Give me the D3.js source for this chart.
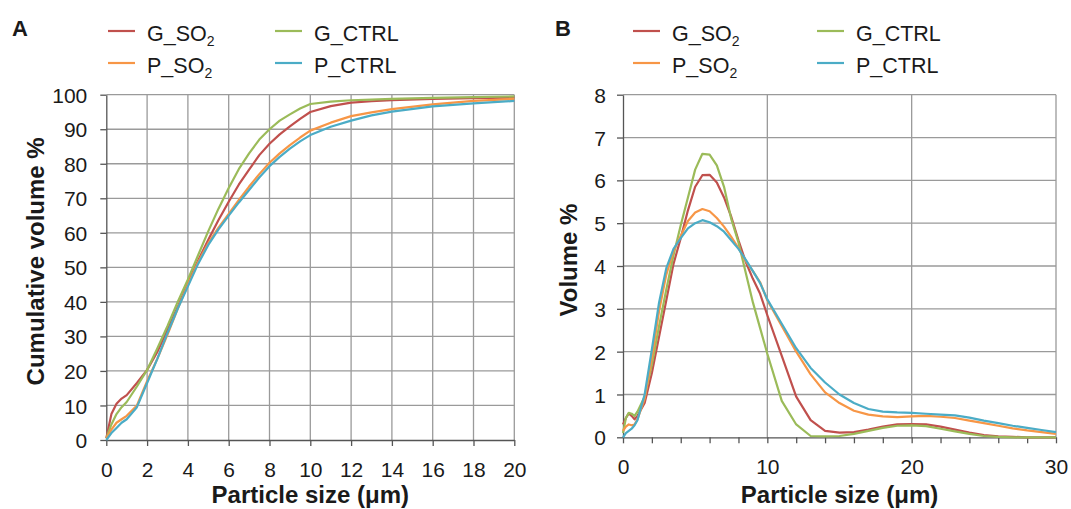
<!DOCTYPE html>
<html>
<head>
<meta charset="utf-8">
<script src="https://cdn.jsdelivr.net/npm/d3@7"></script>
<style>
  body { margin: 0; background: #fff; }
  svg text { font-family: "Liberation Sans", Arial, sans-serif; fill: #1a1a1a; }
</style>
</head>
<body>
<svg id="chart" width="1071" height="509"></svg>
<script>
// ---- panel A: cumulative volume %
const sizesA = [0, 0.25, 0.5, 0.75, 1, 1.5, 2, 2.5, 3, 3.5, 4, 4.5, 5, 5.5, 6, 6.5, 7, 7.5, 8, 8.5, 9, 9.5, 10, 11, 12, 13, 14, 16, 18, 20];
const gSO2A  = [0.5, 7.5, 10.5, 12, 13, 16.5, 20.3, 25.5, 32, 38.5, 45.5, 52, 58, 63.7, 69, 74, 78.3, 82.5, 85.8, 88.5, 90.8, 93, 95, 96.7, 97.7, 98.1, 98.4, 98.8, 99.0, 99.2];
const gCtrlA = [0.5, 4.5, 7.5, 9.5, 11, 15.5, 20.3, 26.5, 33, 40, 46.5, 53.5, 60.5, 67, 73, 78.5, 83, 87, 90, 92.5, 94.3, 96, 97.3, 98.0, 98.4, 98.6, 98.8, 99.1, 99.3, 99.5];
const pSO2A  = [0.5, 3, 5, 6, 7, 10, 17, 23.5, 30.5, 38, 45, 51.5, 57, 61.5, 65.5, 69.5, 73.4, 77, 80.3, 83, 85.4, 87.6, 89.6, 91.9, 93.8, 94.9, 95.8, 97.2, 98.2, 98.8];
const pCtrlA = [0, 2, 3.5, 5, 6, 9.5, 16.5, 23.5, 31, 38, 44.5, 51, 56.5, 61, 65, 68.8, 72.4, 76, 79.3, 82, 84.4, 86.5, 88.3, 90.7, 92.5, 94, 95.1, 96.6, 97.5, 98.2];

// ---- panel B: volume %
const sizesB = [0, 0.2, 0.4, 0.6, 0.8, 1, 1.5, 2, 2.5, 3, 3.5, 4, 4.5, 5, 5.5, 6, 6.5, 7, 7.5, 8, 8.5, 9, 9.5, 10, 11, 12, 13, 14, 15, 16, 17, 18, 19, 20, 21, 22, 23, 24, 25, 26, 27, 28, 29, 30];
const gSO2B  = [0.3, 0.45, 0.56, 0.5, 0.42, 0.5, 0.8, 1.5, 2.35, 3.2, 4.05, 4.65, 5.3, 5.85, 6.12, 6.13, 5.95, 5.6, 5.15, 4.6, 4.1, 3.7, 3.35, 2.85, 1.9, 0.95, 0.4, 0.15, 0.11, 0.12, 0.18, 0.25, 0.3, 0.31, 0.3, 0.25, 0.18, 0.11, 0.05, 0.02, 0.01, 0, 0, 0];
const gCtrlB = [0.1, 0.45, 0.57, 0.55, 0.5, 0.6, 0.95, 1.7, 2.6, 3.45, 4.25, 4.95, 5.6, 6.25, 6.62, 6.6, 6.35, 5.85, 5.1, 4.55, 3.85, 3.15, 2.55, 1.95, 0.85, 0.3, 0.03, 0.02, 0.03, 0.08, 0.15, 0.22, 0.27, 0.28, 0.26, 0.2, 0.14, 0.08, 0.03, 0.01, 0, 0, 0, 0];
const pSO2B  = [0.15, 0.25, 0.3, 0.28, 0.3, 0.42, 0.9, 1.85, 2.95, 3.8, 4.35, 4.7, 5.05, 5.25, 5.33, 5.28, 5.12, 4.92, 4.68, 4.42, 4.12, 3.88, 3.62, 3.2, 2.6, 2.0, 1.47, 1.05, 0.8, 0.62, 0.53, 0.49, 0.47, 0.49, 0.5, 0.48, 0.45, 0.39, 0.33, 0.27, 0.21, 0.16, 0.12, 0.08];
const pCtrlB = [0.0, 0.1, 0.15, 0.2, 0.28, 0.4, 1.0, 2.05, 3.15, 3.95, 4.4, 4.65, 4.88, 5.0, 5.07, 5.02, 4.93, 4.8, 4.6, 4.4, 4.15, 3.88, 3.6, 3.22, 2.65, 2.08, 1.62, 1.28, 1.0, 0.8, 0.66, 0.6, 0.58, 0.57, 0.55, 0.53, 0.51, 0.46, 0.39, 0.33, 0.27, 0.22, 0.17, 0.12];

const ticksA_x = d3.range(0, 21, 2);
const ticksA_y = d3.range(0, 101, 10);
const ticksB_x = d3.range(0, 31, 2);
const gridB_x = [10, 20, 30];
const ticksB_y = d3.range(0, 9, 1);

// legend order (row by row) and colors
const legendItems = [
  { key: "gSO2",  base: "G_SO", sub: "2" },
  { key: "gCtrl", base: "G_CTRL", sub: "" },
  { key: "pSO2",  base: "P_SO", sub: "2" },
  { key: "pCtrl", base: "P_CTRL", sub: "" }
];
const colors = { gSO2: "#c0504d", gCtrl: "#9bbb59", pSO2: "#f79646", pCtrl: "#4bacc6" };

const svg = d3.select("#chart");

function drawPanel(p) {
  const x = d3.scaleLinear().domain(p.xDomain).range([p.left, p.right]);
  const y = d3.scaleLinear().domain(p.yDomain).range([p.bottom, p.top]);
  const g = svg.append("g");

  // gridlines
  g.selectAll("line.vgrid").data(p.xGrid).join("line")
    .attr("class", "vgrid")
    .attr("x1", d => x(d)).attr("x2", d => x(d))
    .attr("y1", p.top).attr("y2", p.bottom)
    .attr("stroke", "#9a9a9a").attr("stroke-width", 1.3);
  g.selectAll("line.hgrid").data(p.yTicks.filter(d => d > p.yDomain[0])).join("line")
    .attr("class", "hgrid")
    .attr("x1", p.left).attr("x2", p.right)
    .attr("y1", d => y(d)).attr("y2", d => y(d))
    .attr("stroke", "#9a9a9a").attr("stroke-width", 1.3);

  // axes
  const xAxis = g.append("g")
    .attr("transform", `translate(0,${p.bottom})`)
    .call(d3.axisBottom(x).tickValues(p.xTicks).tickSize(6).tickSizeOuter(0).tickPadding(16)
      .tickFormat(p.xLabel));
  const yAxis = g.append("g")
    .attr("transform", `translate(${p.left},0)`)
    .call(d3.axisLeft(y).tickValues(p.yTicks).tickSize(6).tickSizeOuter(0).tickPadding(p.yPad));
  [xAxis, yAxis].forEach(a => {
    a.select(".domain").attr("stroke", "#555").attr("stroke-width", 1.3);
    a.selectAll(".tick line").attr("stroke", "#555").attr("stroke-width", 1.3);
    a.selectAll(".tick text").attr("font-size", 21).attr("fill", "#1a1a1a")
      .attr("font-family", '"Liberation Sans", Arial, sans-serif');
  });
  yAxis.selectAll(".tick text").attr("dy", "0.36em");

  // series lines
  const line = d3.line().x(d => x(d[0])).y(d => y(d[1]));
  ["gSO2", "gCtrl", "pSO2", "pCtrl"].forEach(k => {
    g.append("path")
      .datum(d3.zip(p.sizes, p.series[k]))
      .attr("fill", "none")
      .attr("stroke", colors[k])
      .attr("stroke-width", 2.2)
      .attr("stroke-linejoin", "round")
      .attr("d", line);
  });

  // axis titles
  g.append("text")
    .attr("x", (p.left + p.right) / 2).attr("y", 503)
    .attr("text-anchor", "middle")
    .attr("font-size", 24).attr("font-weight", "bold")
    .text("Particle size (μm)");
  g.append("text")
    .attr("transform", `translate(${p.yTitleX},${(p.top + p.bottom) / 2 - 6}) rotate(-90)`)
    .attr("text-anchor", "middle")
    .attr("font-size", 24).attr("font-weight", "bold")
    .text(p.yTitle);

  // panel letter
  g.append("text")
    .attr("x", p.letterX).attr("y", 36)
    .attr("font-size", 22).attr("font-weight", "bold")
    .text(p.letter);

  // legend
  legendItems.forEach((it, i) => {
    const lx = p.legendX[i % 2];
    const ly = [31, 63][Math.floor(i / 2)];
    g.append("line")
      .attr("x1", lx).attr("x2", lx + 27)
      .attr("y1", ly).attr("y2", ly)
      .attr("stroke", colors[it.key]).attr("stroke-width", 2.2);
    const t = g.append("text")
      .attr("x", lx + 39).attr("y", ly + 10)
      .attr("font-size", 21.5);
    t.append("tspan").text(it.base);
    if (it.sub) {
      t.append("tspan").attr("font-size", 14).attr("dy", 5).text(it.sub);
    }
  });
}

drawPanel({
  letter: "A", letterX: 12,
  left: 106.3, right: 514.3, top: 94.7, bottom: 440,
  xDomain: [0, 20], yDomain: [0, 100],
  xTicks: ticksA_x, xGrid: ticksA_x.filter(d => d > 0), yTicks: ticksA_y,
  xLabel: d => d, yPad: 13,
  sizes: sizesA,
  series: { gSO2: gSO2A, gCtrl: gCtrlA, pSO2: pSO2A, pCtrl: pCtrlA },
  yTitle: "Cumulative volume %", yTitleX: 44,
  legendX: [108, 275]
});

drawPanel({
  letter: "B", letterX: 555,
  left: 623, right: 1056, top: 94.7, bottom: 437.3,
  xDomain: [0, 30], yDomain: [0, 8],
  xTicks: ticksB_x, xGrid: gridB_x, yTicks: ticksB_y,
  xLabel: d => (d % 10 === 0 ? d : ""), yPad: 11,
  sizes: sizesB,
  series: { gSO2: gSO2B, gCtrl: gCtrlB, pSO2: pSO2B, pCtrl: pCtrlB },
  yTitle: "Volume %", yTitleX: 577,
  legendX: [633, 817]
});
</script>
</body>
</html>
